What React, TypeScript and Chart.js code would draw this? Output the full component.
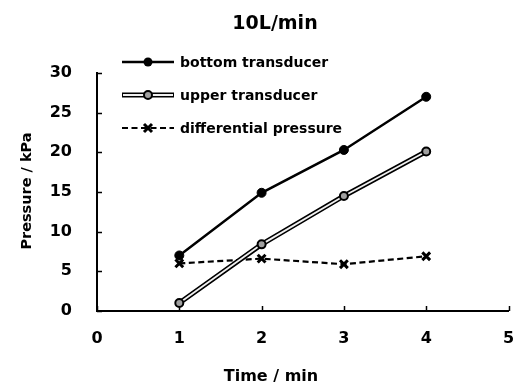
import React, { useEffect, useRef } from "react";
import { Chart, registerables } from "chart.js";

Chart.register(...registerables);

const timeMin = [1, 2, 3, 4];
const bottomValues = [7.0, 14.9, 20.3, 27.0];
const upperValues = [1.0, 8.4, 14.5, 20.1];
const diffValues = [6.0, 6.6, 5.9, 6.9];
const xTickValues = [0, 1, 2, 3, 4, 5];
const yTickValues = [0, 5, 10, 15, 20, 25, 30];
const chartTitle = "10L/min";
const xTitle = "Time / min";
const yTitle = "Pressure / kPa";
const legendLabels = ["bottom transducer", "upper transducer", "differential pressure"];

const FONT = '"DejaVu Sans", "Open Sans", sans-serif';

const toPoints = (vals: number[]) => vals.map((v, i) => ({ x: timeMin[i], y: v }));

const decorPlugin = {
  id: "decor",
  afterDraw(chart: any) {
    const ctx = chart.ctx as CanvasRenderingContext2D;
    const xs = chart.scales.x;
    const ys = chart.scales.y;
    const area = chart.chartArea;
    ctx.save();
    // inward tick marks
    ctx.strokeStyle = "#000";
    ctx.lineWidth = 1.5;
    ctx.beginPath();
    xTickValues.forEach((v) => {
      const px = Math.round(xs.getPixelForValue(v)) + 0.5;
      ctx.moveTo(px, area.bottom);
      ctx.lineTo(px, area.bottom - 5);
    });
    yTickValues.forEach((v) => {
      const py = Math.round(ys.getPixelForValue(v)) + 0.5;
      ctx.moveTo(area.left, py);
      ctx.lineTo(area.left + 5, py);
    });
    ctx.stroke();

    // title
    ctx.fillStyle = "#000";
    ctx.textAlign = "center";
    ctx.textBaseline = "middle";
    ctx.font = `bold 19px ${FONT}`;
    ctx.fillText(chartTitle, 275, 24);
    // x title
    ctx.font = `bold 16px ${FONT}`;
    ctx.fillText(xTitle, 271, 377);
    // y title
    ctx.save();
    ctx.translate(27, 191);
    ctx.rotate(-Math.PI / 2);
    ctx.font = `bold 14.5px ${FONT}`;
    ctx.fillText(yTitle, 0, 0);
    ctx.restore();

    // legend
    const rows = [62, 95, 128];
    const x0 = 122;
    const x1 = 174;
    const mx = 148;
    ctx.textAlign = "left";
    ctx.font = `bold 14px ${FONT}`;
    // bottom
    ctx.strokeStyle = "#000";
    ctx.lineWidth = 2.5;
    ctx.setLineDash([]);
    ctx.beginPath();
    ctx.moveTo(x0, rows[0]);
    ctx.lineTo(x1, rows[0]);
    ctx.stroke();
    ctx.fillStyle = "#000";
    ctx.beginPath();
    ctx.arc(mx, rows[0], 4.5, 0, Math.PI * 2);
    ctx.fill();
    // upper
    ctx.lineWidth = 5;
    ctx.beginPath();
    ctx.moveTo(x0, rows[1]);
    ctx.lineTo(x1, rows[1]);
    ctx.stroke();
    ctx.strokeStyle = "#f0f0f0";
    ctx.lineWidth = 1.8;
    ctx.beginPath();
    ctx.moveTo(x0 + 1, rows[1]);
    ctx.lineTo(x1 - 1, rows[1]);
    ctx.stroke();
    ctx.fillStyle = "#a0a0a0";
    ctx.strokeStyle = "#000";
    ctx.lineWidth = 2;
    ctx.beginPath();
    ctx.arc(mx, rows[1], 4, 0, Math.PI * 2);
    ctx.fill();
    ctx.stroke();
    // diff
    ctx.lineWidth = 2.2;
    ctx.setLineDash([6, 3.5]);
    ctx.beginPath();
    ctx.moveTo(x0, rows[2]);
    ctx.lineTo(x1, rows[2]);
    ctx.stroke();
    ctx.setLineDash([]);
    ctx.lineWidth = 3;
    ctx.beginPath();
    ctx.moveTo(mx - 4, rows[2] - 4);
    ctx.lineTo(mx + 4, rows[2] + 4);
    ctx.moveTo(mx + 4, rows[2] - 4);
    ctx.lineTo(mx - 4, rows[2] + 4);
    ctx.stroke();
    ctx.fillStyle = "#000";
    legendLabels.forEach((t, i) => ctx.fillText(t, 180, rows[i] + 1));
    ctx.restore();
  },
};

export default function App() {
  const ref = useRef<HTMLCanvasElement | null>(null);
  useEffect(() => {
    document.body.style.margin = "0";
    const canvas = ref.current!;
    const chart = new Chart(canvas, {
      type: "line",
      data: {
        datasets: [
          {
            label: legendLabels[0],
            data: toPoints(bottomValues),
            borderColor: "#000",
            borderWidth: 2.5,
            pointRadius: 4.5,
            pointBackgroundColor: "#000",
            pointBorderColor: "#000",
            pointBorderWidth: 1,
            order: 1,
          },
          {
            label: legendLabels[1],
            data: toPoints(upperValues),
            borderColor: "#f0f0f0",
            borderWidth: 1.8,
            pointRadius: 4,
            pointBackgroundColor: "#a0a0a0",
            pointBorderColor: "#000",
            pointBorderWidth: 2,
            order: 2,
          },
          {
            label: legendLabels[1] + " outline",
            data: toPoints(upperValues),
            borderColor: "#000",
            borderWidth: 5,
            pointRadius: 0,
            order: 3,
          },
          {
            label: legendLabels[2],
            data: toPoints(diffValues),
            borderColor: "#000",
            borderWidth: 2.2,
            borderDash: [6, 3.5],
            pointStyle: "crossRot",
            pointRadius: 5.5,
            pointBorderColor: "#000",
            pointBorderWidth: 3,
            order: 4,
          },
        ],
      },
      options: {
        animation: false,
        responsive: false,
        layout: { padding: { top: 73, right: 7, left: 0, bottom: 0 } },
        plugins: { legend: { display: false }, title: { display: false }, tooltip: { enabled: false } },
        scales: {
          x: {
            type: "linear",
            min: 0,
            max: 5,
            afterFit: (s: any) => {
              s.height = 79;
              s.paddingLeft = 0;
              s.paddingRight = 0;
            },
            ticks: {
              stepSize: 1,
              color: "#000",
              padding: 18,
              font: { family: FONT, size: 16, weight: "bold" },
            },
            grid: { display: false, drawTicks: false },
            border: { display: true, color: "#000", width: 2 },
          },
          y: {
            type: "linear",
            min: 0,
            max: 30,
            afterFit: (s: any) => {
              s.width = 97;
              s.paddingTop = 0;
              s.paddingBottom = 0;
            },
            ticks: {
              stepSize: 5,
              color: "#000",
              padding: 25,
              font: { family: FONT, size: 16, weight: "bold" },
            },
            grid: { display: false, drawTicks: false },
            border: { display: true, color: "#000", width: 2 },
          },
        },
      },
      plugins: [decorPlugin],
    });
    return () => chart.destroy();
  }, []);
  return <canvas ref={ref} width={517} height={390} style={{ display: "block" }} />;
}
